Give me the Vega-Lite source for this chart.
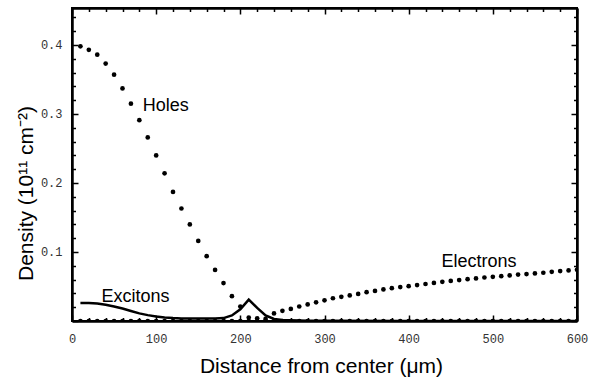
{
  "$schema": "https://vega.github.io/schema/vega-lite/v6.json",
  "width": 505,
  "height": 313,
  "autosize": {"type": "none"},
  "padding": {"left": 72, "top": 8, "right": 14, "bottom": 58},
  "config": {
    "view": {"stroke": "black", "strokeWidth": 2},
    "axis": {"grid": false, "labelFont": "Liberation Mono", "labelFontSize": 12, "labelColor": "#333", "titleFont": "Liberation Sans", "titleFontSize": 21, "titleFontWeight": "normal", "titleColor": "black"}
  },
  "datasets": {
    "holes": [
      {"x": 10, "y": 0.398}, {"x": 20, "y": 0.393}, {"x": 30, "y": 0.386}, {"x": 40, "y": 0.373},
      {"x": 50, "y": 0.357}, {"x": 60, "y": 0.337}, {"x": 70, "y": 0.315}, {"x": 80, "y": 0.291},
      {"x": 90, "y": 0.266}, {"x": 100, "y": 0.240}, {"x": 110, "y": 0.214}, {"x": 120, "y": 0.187},
      {"x": 130, "y": 0.163}, {"x": 140, "y": 0.140}, {"x": 150, "y": 0.116}, {"x": 160, "y": 0.094},
      {"x": 170, "y": 0.074}, {"x": 180, "y": 0.055}, {"x": 190, "y": 0.036}, {"x": 200, "y": 0.021},
      {"x": 210, "y": 0.005}, {"x": 220, "y": 0.004}, {"x": 230, "y": 0.003}, {"x": 240, "y": 0},
      {"x": 250, "y": 0}, {"x": 260, "y": 0}, {"x": 270, "y": 0}, {"x": 280, "y": 0},
      {"x": 290, "y": 0}, {"x": 300, "y": 0}, {"x": 310, "y": 0}, {"x": 320, "y": 0},
      {"x": 330, "y": 0}, {"x": 340, "y": 0}, {"x": 350, "y": 0}, {"x": 360, "y": 0},
      {"x": 370, "y": 0}, {"x": 380, "y": 0}, {"x": 390, "y": 0}, {"x": 400, "y": 0},
      {"x": 410, "y": 0}, {"x": 420, "y": 0}, {"x": 430, "y": 0}, {"x": 440, "y": 0},
      {"x": 450, "y": 0}, {"x": 460, "y": 0}, {"x": 470, "y": 0}, {"x": 480, "y": 0},
      {"x": 490, "y": 0}, {"x": 500, "y": 0}, {"x": 510, "y": 0}, {"x": 520, "y": 0},
      {"x": 530, "y": 0}, {"x": 540, "y": 0}, {"x": 550, "y": 0}, {"x": 560, "y": 0},
      {"x": 570, "y": 0}, {"x": 580, "y": 0}, {"x": 590, "y": 0}, {"x": 600, "y": 0}
    ],
    "electrons": [
      {"x": 10, "y": 0}, {"x": 20, "y": 0}, {"x": 30, "y": 0}, {"x": 40, "y": 0},
      {"x": 50, "y": 0}, {"x": 60, "y": 0}, {"x": 70, "y": 0}, {"x": 80, "y": 0},
      {"x": 90, "y": 0}, {"x": 100, "y": 0}, {"x": 110, "y": 0}, {"x": 120, "y": 0},
      {"x": 130, "y": 0}, {"x": 140, "y": 0}, {"x": 150, "y": 0}, {"x": 160, "y": 0},
      {"x": 170, "y": 0}, {"x": 180, "y": 0}, {"x": 190, "y": 0}, {"x": 200, "y": 0},
      {"x": 210, "y": 0}, {"x": 220, "y": 0}, {"x": 230, "y": 0}, {"x": 240, "y": 0.011},
      {"x": 250, "y": 0.0148}, {"x": 260, "y": 0.0175}, {"x": 270, "y": 0.021}, {"x": 280, "y": 0.024},
      {"x": 290, "y": 0.027}, {"x": 300, "y": 0.030}, {"x": 310, "y": 0.033}, {"x": 320, "y": 0.035},
      {"x": 330, "y": 0.037}, {"x": 340, "y": 0.0393}, {"x": 350, "y": 0.0418}, {"x": 360, "y": 0.0436},
      {"x": 370, "y": 0.0458}, {"x": 380, "y": 0.0476}, {"x": 390, "y": 0.0491}, {"x": 400, "y": 0.0505},
      {"x": 410, "y": 0.052}, {"x": 420, "y": 0.0536}, {"x": 430, "y": 0.0552}, {"x": 440, "y": 0.0568},
      {"x": 450, "y": 0.0581}, {"x": 460, "y": 0.0593}, {"x": 470, "y": 0.0606}, {"x": 480, "y": 0.0617},
      {"x": 490, "y": 0.063}, {"x": 500, "y": 0.064}, {"x": 510, "y": 0.065}, {"x": 520, "y": 0.0661},
      {"x": 530, "y": 0.0673}, {"x": 540, "y": 0.068}, {"x": 550, "y": 0.0689}, {"x": 560, "y": 0.0699},
      {"x": 570, "y": 0.0712}, {"x": 580, "y": 0.0723}, {"x": 590, "y": 0.0733}, {"x": 600, "y": 0.0741}
    ],
    "excitons": [
      {"x": 10, "y": 0.026}, {"x": 20, "y": 0.026}, {"x": 30, "y": 0.0255}, {"x": 40, "y": 0.0235},
      {"x": 50, "y": 0.021}, {"x": 60, "y": 0.018}, {"x": 70, "y": 0.0145}, {"x": 80, "y": 0.011},
      {"x": 90, "y": 0.0085}, {"x": 100, "y": 0.0066}, {"x": 110, "y": 0.0052}, {"x": 120, "y": 0.0043},
      {"x": 130, "y": 0.0038}, {"x": 140, "y": 0.0036}, {"x": 150, "y": 0.0035}, {"x": 160, "y": 0.0035},
      {"x": 170, "y": 0.0036}, {"x": 180, "y": 0.0042}, {"x": 190, "y": 0.008}, {"x": 200, "y": 0.017},
      {"x": 210, "y": 0.031}, {"x": 220, "y": 0.019}, {"x": 230, "y": 0.008}, {"x": 240, "y": 0.003},
      {"x": 250, "y": 0.0015}, {"x": 260, "y": 0.001}, {"x": 280, "y": 0.0005}, {"x": 300, "y": 0.0002},
      {"x": 400, "y": 0}, {"x": 500, "y": 0}, {"x": 600, "y": 0}
    ],
    "labels": [
      {"x": 84, "y": 0.311, "text": "Holes"},
      {"x": 35, "y": 0.035, "text": "Excitons"},
      {"x": 439, "y": 0.085, "text": "Electrons"}
    ]
  },
  "layer": [
    {
      "data": {"name": "holes"},
      "mark": {"type": "point", "filled": true, "color": "black", "size": 22, "opacity": 1, "clip": true},
      "encoding": {
        "x": {"field": "x", "type": "quantitative", "scale": {"domain": [0, 600], "nice": false, "zero": false},
          "axis": {"orient": "bottom", "zindex": 1, "domain": true, "domainColor": "black", "domainWidth": 2.5,
            "values": [0, 20, 40, 60, 80, 100, 120, 140, 160, 180, 200, 220, 240, 260, 280, 300, 320, 340, 360, 380, 400, 420, 440, 460, 480, 500, 520, 540, 560, 580, 600],
            "labelExpr": "datum.value % 100 == 0 ? datum.label : ''",
            "tickColor": "black", "tickWidth": 1.5,
            "tickSize": {"condition": {"test": "datum.value % 100 == 0", "value": -6}, "value": -3.5},
            "labelPadding": 18, "labelFlush": false, "labelOverlap": false,
            "title": "Distance from center (μm)", "titleX": 249, "titleY": 51, "titleBaseline": "alphabetic", "titleAnchor": "middle"}},
        "y": {"field": "y", "type": "quantitative", "scale": {"domain": [0, 0.4536], "nice": false, "zero": false},
          "axis": {"orient": "left", "zindex": 1, "domain": true, "domainColor": "black", "domainWidth": 2.5,
            "values": [0, 0.02, 0.04, 0.06, 0.08, 0.1, 0.12, 0.14, 0.16, 0.18, 0.2, 0.22, 0.24, 0.26, 0.28, 0.3, 0.32, 0.34, 0.36, 0.38, 0.4, 0.42, 0.44],
            "labelExpr": "(datum.value > 0.05 && abs(datum.value * 10 - round(datum.value * 10)) < 0.001) ? format(datum.value, '.1f') : ''",
            "tickColor": "black", "tickWidth": 1.5,
            "tickSize": {"condition": {"test": "abs(datum.value * 10 - round(datum.value * 10)) < 0.001", "value": -6}, "value": -3.5},
            "labelPadding": 16, "labelFlush": false, "labelOverlap": false,
            "title": "Density (10¹¹ cm⁻²)", "titleX": -40, "titleY": 185, "titleBaseline": "alphabetic", "titleAngle": -90, "titleAnchor": "middle"}}
      }
    },
    {
      "data": {"name": "electrons"},
      "mark": {"type": "point", "filled": true, "color": "black", "size": 22, "opacity": 1, "clip": true},
      "encoding": {
        "x": {"field": "x", "type": "quantitative", "axis": {"orient": "top", "zindex": 1, "domain": true, "domainColor": "black", "domainWidth": 2.5,
            "values": [0, 20, 40, 60, 80, 100, 120, 140, 160, 180, 200, 220, 240, 260, 280, 300, 320, 340, 360, 380, 400, 420, 440, 460, 480, 500, 520, 540, 560, 580, 600],
            "tickColor": "black", "tickWidth": 1.5,
            "tickSize": {"condition": {"test": "datum.value % 100 == 0", "value": -6}, "value": -3.5},
            "labels": false, "title": null}},
        "y": {"field": "y", "type": "quantitative", "axis": {"orient": "right", "zindex": 1, "domain": true, "domainColor": "black", "domainWidth": 2.5,
            "values": [0, 0.02, 0.04, 0.06, 0.08, 0.1, 0.12, 0.14, 0.16, 0.18, 0.2, 0.22, 0.24, 0.26, 0.28, 0.3, 0.32, 0.34, 0.36, 0.38, 0.4, 0.42, 0.44],
            "tickColor": "black", "tickWidth": 1.5,
            "tickSize": {"condition": {"test": "abs(datum.value * 10 - round(datum.value * 10)) < 0.001", "value": -6}, "value": -3.5},
            "labels": false, "title": null}}
      }
    },
    {
      "data": {"name": "excitons"},
      "mark": {"type": "line", "color": "black", "strokeWidth": 2.5, "clip": true},
      "encoding": {
        "x": {"field": "x", "type": "quantitative", "axis": null},
        "y": {"field": "y", "type": "quantitative", "axis": null}
      }
    },
    {
      "data": {"name": "labels"},
      "mark": {"type": "text", "align": "left", "baseline": "middle", "font": "Liberation Sans", "fontSize": 18, "color": "black"},
      "encoding": {
        "x": {"field": "x", "type": "quantitative", "axis": null},
        "y": {"field": "y", "type": "quantitative", "axis": null},
        "text": {"field": "text", "type": "nominal"}
      }
    }
  ],
  "resolve": {"axis": {"x": "independent", "y": "independent"}}
}
